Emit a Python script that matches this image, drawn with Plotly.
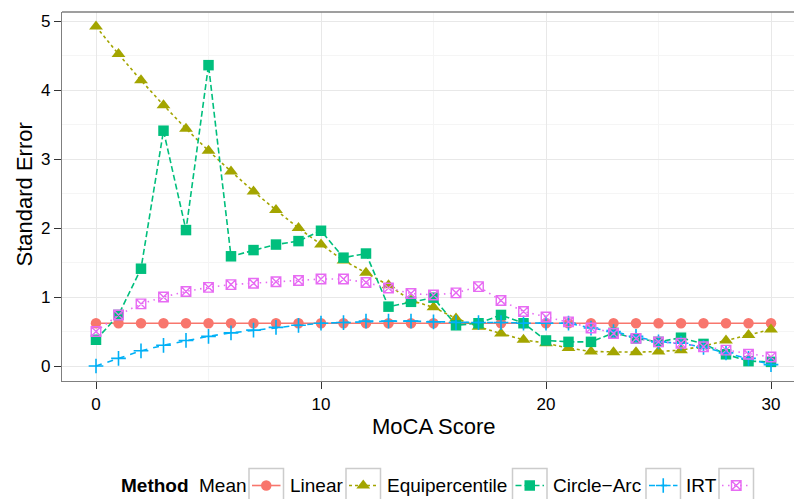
import plotly.graph_objects as go

W, H = 794, 499

scores = list(range(31))
methods = ["Mean", "Linear", "Equipercentile", "Circle\u2212Arc", "IRT"]
colors = ["#F8766D", "#A3A500", "#00BF7D", "#00B0F6", "#E76BF3"]

se_mean = [0.62] * 31
se_linear = [4.92, 4.52, 4.14, 3.78, 3.44, 3.12, 2.82, 2.53, 2.26, 2.00, 1.76,
             1.53, 1.35, 1.17, 0.95, 0.85, 0.69, 0.57, 0.47, 0.38, 0.33, 0.26,
             0.21, 0.20, 0.20, 0.21, 0.23, 0.29, 0.37, 0.45, 0.53]
se_equi = [0.38, 0.74, 1.41, 3.41, 1.97, 4.36, 1.59, 1.68, 1.76, 1.81, 1.96,
           1.57, 1.63, 0.86, 0.93, 0.99, 0.59, 0.62, 0.74, 0.62, 0.37, 0.35,
           0.35, 0.48, 0.40, 0.35, 0.41, 0.32, 0.17, 0.07, 0.06]
se_circle = [0.00, 0.11, 0.22, 0.30, 0.37, 0.43, 0.48, 0.52, 0.56, 0.59, 0.62,
             0.63, 0.65, 0.65, 0.65, 0.64, 0.63, 0.63, 0.63, 0.62, 0.62, 0.62,
             0.55, 0.50, 0.43, 0.35, 0.33, 0.27, 0.19, 0.11, 0.02]
se_irt = [0.50, 0.74, 0.90, 1.00, 1.08, 1.14, 1.18, 1.20, 1.22, 1.24, 1.26,
          1.26, 1.21, 1.13, 1.05, 1.03, 1.06, 1.15, 0.95, 0.79, 0.71, 0.64,
          0.55, 0.47, 0.40, 0.35, 0.33, 0.28, 0.23, 0.17, 0.13]
series = [se_mean, se_linear, se_equi, se_circle, se_irt]

x_ticks = [0, 10, 20, 30]
y_ticks = [0, 1, 2, 3, 4, 5]

symbols = ["circle", "triangle-up", "square", "cross-thin", "square-x-open"]
msizes = [10.5, 12, 10.5, 10.5, 9.5]
mlines = [0, 0, 0, 1.6, 1.4]
dashes = ["solid", "3px,3px", "6px,3px", "6px,6px", "1.5px,4.5px"]

fig = go.Figure()

for name, ys, c, s, ms, ml, d in zip(methods, series, colors, symbols, msizes, mlines, dashes):
    fig.add_trace(go.Scatter(
        x=scores, y=ys, name=name, mode="lines+markers",
        line=dict(color=c, width=1.6, dash=d),
        marker=dict(symbol=s, size=ms, color=c, line=dict(color=c, width=ml)),
        showlegend=False, xaxis="x", yaxis="y",
    ))

# ---- custom ggplot-style legend (label then key box) ----
label_x = [197, 288, 384.5, 551, 683.5]
box_l = [249, 346, 512.5, 646, 719]
box_w = 34.5
leg_y = 485.5
for name, c, s, ms, ml, d, lx, bl in zip(methods, colors, symbols, msizes, mlines, dashes, label_x, box_l):
    fig.add_shape(type="rect", xref="x2", yref="y2", x0=bl, x1=bl + box_w, y0=468.5, y1=503,
                  line=dict(color="#CCCCCC", width=1.5), fillcolor="white", layer="below")
    fig.add_trace(go.Scatter(x=[bl + 3, bl + box_w - 3], y=[leg_y, leg_y], mode="lines",
                             line=dict(color=c, width=1.6, dash=d), showlegend=False,
                             hoverinfo="skip", xaxis="x2", yaxis="y2", cliponaxis=False))
    fig.add_trace(go.Scatter(x=[bl + box_w / 2], y=[leg_y], mode="markers",
                             marker=dict(symbol=s, size=ms, color=c, line=dict(color=c, width=ml)),
                             showlegend=False, hoverinfo="skip", xaxis="x2", yaxis="y2",
                             cliponaxis=False))
    fig.add_annotation(text=name, xref="x2", yref="y2", x=lx, y=leg_y, xanchor="left",
                       yanchor="middle", showarrow=False,
                       font=dict(family="Liberation Sans, Arial", size=19, color="black"))
fig.add_annotation(text="<b>Method</b>", xref="x2", yref="y2", x=119, y=leg_y, xanchor="left",
                   yanchor="middle", showarrow=False,
                   font=dict(family="Liberation Sans, Arial", size=19, color="black"))

# axis titles
fig.add_annotation(text="MoCA Score", xref="paper", yref="paper", x=434 / W, y=1 - 426 / H,
                   xanchor="center", yanchor="middle", showarrow=False,
                   font=dict(family="Liberation Sans, Arial", size=22, color="black"))
fig.add_annotation(text="Standard Error", xref="paper", yref="paper", x=23.5 / W, y=1 - 195 / H,
                   xanchor="center", yanchor="middle", showarrow=False, textangle=-90,
                   font=dict(family="Liberation Sans, Arial", size=22, color="black"))

# panel top border
fig.add_shape(type="line", xref="paper", yref="paper", x0=62 / W, x1=1, y0=1 - 12 / H, y1=1 - 12 / H,
              line=dict(color="#7F7F7F", width=1.3))

x_px0, x_scale = 96, 22.5
y_px0, y_scale = 366, 69
fig.update_layout(
    width=W, height=H, autosize=False,
    margin=dict(l=0, r=0, t=0, b=0),
    paper_bgcolor="white", plot_bgcolor="rgba(0,0,0,0)",
    font=dict(family="Liberation Sans, Arial", color="black"),
    xaxis=dict(domain=[62 / W, 1], range=[(62 - x_px0) / x_scale, (W - x_px0) / x_scale],
               tickvals=x_ticks, ticks="outside", ticklen=7, tickwidth=1.3, tickcolor="#333333",
               tickfont=dict(size=17, color="black"), showline=True, linecolor="#7F7F7F",
               linewidth=1.3, showgrid=True, gridcolor="#E8E8E8", gridwidth=1.3, zeroline=False,
               minor=dict(dtick=5, showgrid=True, gridcolor="#F5F5F5", gridwidth=1),
               anchor="y"),
    yaxis=dict(domain=[1 - 381 / H, 1 - 12 / H], range=[(y_px0 - 381) / y_scale, (y_px0 - 12) / y_scale],
               tickvals=y_ticks, ticks="outside", ticklen=7, tickwidth=1.3, tickcolor="#333333",
               tickfont=dict(size=17, color="black"), showline=True, linecolor="#7F7F7F",
               linewidth=1.3, showgrid=True, gridcolor="#E8E8E8", gridwidth=1.3, zeroline=False,
               minor=dict(dtick=0.5, showgrid=True, gridcolor="#F5F5F5", gridwidth=1),
               anchor="x"),
    xaxis2=dict(domain=[0, 1], range=[0, W], visible=False, anchor="y2", fixedrange=True),
    yaxis2=dict(domain=[0, 60 / H], range=[H, H - 60], visible=False, anchor="x2", fixedrange=True),
)

fig.write_html("out.html", config={"displayModeBar": False},
               post_script="document.body.style.margin='0';document.body.style.overflow='hidden';")
